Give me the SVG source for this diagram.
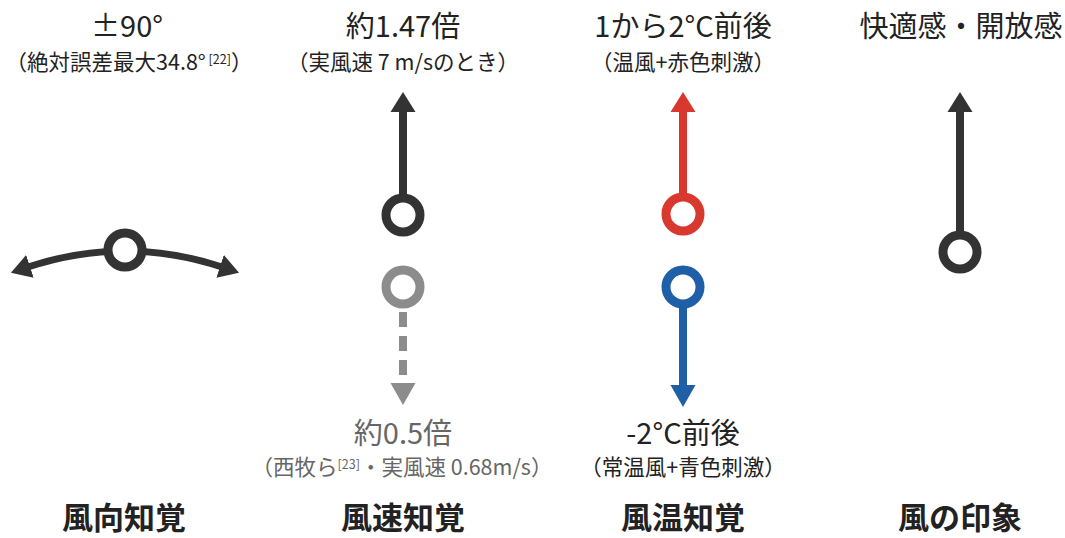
<svg xmlns="http://www.w3.org/2000/svg" width="1065" height="538" viewBox="0 0 1065 538">
<style>
text{font-family:"Noto Sans CJK JP","Noto Sans",sans-serif;text-anchor:middle;fill:#222}
.t{font-size:29px}
.s{font-size:21.5px}
.sup{font-size:12.5px}
.b{font-size:31px;font-weight:bold}
.g{fill:#666}
.ring{fill:#fff;stroke-width:9}
.dk{stroke:#333;fill:none}
.dkf{fill:#333}
</style>
<defs>
<marker id="ah" viewBox="0 -12 20 24" markerWidth="20" markerHeight="24" refX="2" refY="0" markerUnits="userSpaceOnUse" orient="auto-start-reverse">
<path d="M0,-12 L20,0 L0,12 z" fill="#333"/>
</marker>
</defs>
<rect width="1065" height="538" fill="#fff"/>
<g id="connectors">
<path d="M28,267 Q125,235 222,267" class="dk" stroke-width="7" marker-start="url(#ah)" marker-end="url(#ah)"/>
<line x1="403" y1="110" x2="403" y2="198" stroke="#333" stroke-width="8"/>
<polygon points="390.5,112 403,92 415.5,112" class="dkf"/>
<line x1="403" y1="312" x2="403" y2="384" stroke="#8c8c8c" stroke-width="8" stroke-dasharray="15 9"/>
<polygon points="390.5,383 403,405 415.5,383" fill="#8c8c8c"/>
<line x1="683" y1="110" x2="683" y2="197" stroke="#d9382e" stroke-width="8"/>
<polygon points="670.5,112 683,92 695.5,112" fill="#d9382e"/>
<line x1="683" y1="304" x2="683" y2="387" stroke="#1f5fa8" stroke-width="8"/>
<polygon points="670.5,385 683,407 695.5,385" fill="#1f5fa8"/>
<line x1="960" y1="110" x2="960" y2="235" stroke="#333" stroke-width="8"/>
<polygon points="947.5,112 960,92 972.5,112" class="dkf"/>
</g>
<g id="node-direction">
<circle cx="125" cy="250" r="17" class="ring" stroke="#333"/>
<text x="127" y="37" class="t">±90°</text>
<text x="129" y="70" class="s">（絶対誤差最大34.8°<tspan class="sup" dy="-6"> [22]</tspan><tspan dy="6">）</tspan></text>
<text x="124" y="529" class="b">風向知覚</text>
</g>
<g id="node-speed">
<circle cx="403" cy="215" r="17" class="ring" stroke="#333"/>
<circle cx="403" cy="287" r="17" class="ring" stroke="#8c8c8c"/>
<text x="403" y="37" class="t">約1.47倍</text>
<text x="403" y="70" class="s">（実風速 7 m/sのとき）</text>
<text x="403" y="444" class="t g">約0.5倍</text>
<text x="402" y="475" class="s g">（西牧ら<tspan class="sup" dy="-6">[23]</tspan><tspan dy="6">・実風速 0.68m/s）</tspan></text>
<text x="403" y="529" class="b">風速知覚</text>
</g>
<g id="node-temperature">
<circle cx="683" cy="214" r="17" class="ring" stroke="#d9382e"/>
<circle cx="683" cy="287" r="17" class="ring" stroke="#1f5fa8"/>
<text x="683" y="37" class="t">1から2°C前後</text>
<text x="683" y="70" class="s">（温風+赤色刺激）</text>
<text x="683" y="444" class="t">-2°C前後</text>
<text x="683" y="475" class="s">（常温風+青色刺激）</text>
<text x="683" y="529" class="b">風温知覚</text>
</g>
<g id="node-impression">
<circle cx="960" cy="252" r="17" class="ring" stroke="#333"/>
<text x="961" y="37" class="t">快適感・開放感</text>
<text x="960" y="529" class="b">風の印象</text>
</g>
</svg>
